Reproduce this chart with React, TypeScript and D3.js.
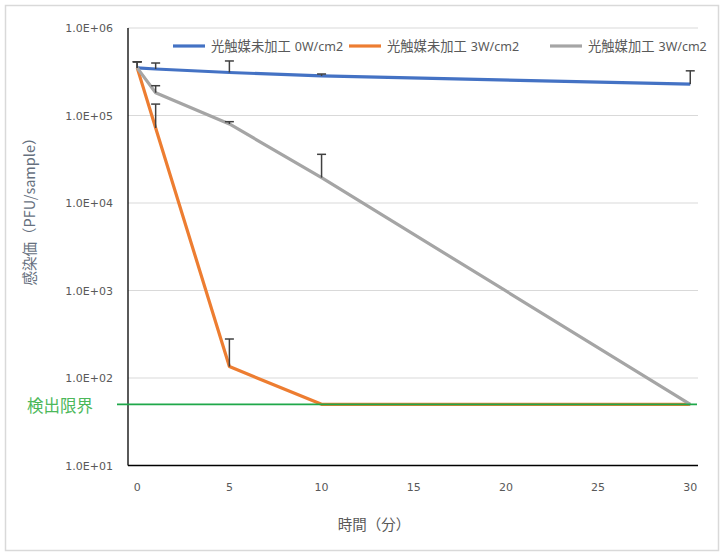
import React from "react";
import * as d3 from "d3";

const times = [0, 1, 5, 10, 30];
const seriesNames = ["光触媒未加工 0W/cm2", "光触媒未加工 3W/cm2", "光触媒加工 3W/cm2"];
const seriesColors = ["#4472C4", "#ED7D31", "#A5A5A5"];
const blueValues = [350000, 340000, 310000, 283000, 228000];
const blueUpper = [411000, 398000, 420000, 298000, 324000];
const orangeValues = [350000, 72000, 135, 50, 50];
const orangeUpper = [411000, 135000, 279, null, null];
const grayValues = [350000, 182000, 80000, 19500, 50];
const grayUpper = [411000, 219000, 85000, 36000, null];
const yTicks = [1e1, 1e2, 1e3, 1e4, 1e5, 1e6];
const xTicks = [0, 5, 10, 15, 20, 25, 30];
const detectionLimit = 50;
const detectionLabel = "検出限界";
const yTitle = "感染価（PFU/sample）";
const xTitle = "時間（分）";

const W = 727;
const H = 559;
const left = 128;
const right = 698;
const top = 28;
const bottom = 465.5;
const CJK = "'Noto Sans CJK JP', 'Noto Sans', sans-serif";
const LAT = "'DejaVu Sans', 'Noto Sans CJK JP', sans-serif";
const LAT2 = "'Noto Sans', 'Noto Sans CJK JP', sans-serif";

export default function App() {
  const x = d3.scaleLinear().domain([-0.5, 30.42]).range([left, right]);
  const y = d3.scaleLog().domain([10, 1e6]).range([bottom, top]);
  const line = d3
    .line<[number, number]>()
    .x((d) => x(d[0]))
    .y((d) => y(d[1]));

  const values = [blueValues, orangeValues, grayValues];
  const uppers = [blueUpper, orangeUpper, grayUpper];

  const fmt = (v: number) => "1.0E+" + String(Math.round(Math.log10(v))).padStart(2, "0");

  const legendX = [173, 349, 550];

  return (
    <svg width={W} height={H} style={{ position: "absolute", left: 0, top: 0 }}>
      <rect x={5.5} y={5.5} width={713} height={545} fill="#fff" stroke="#d9d9d9" strokeWidth={1.5} />
      {yTicks.map((t) => (
        <line key={"g" + t} x1={left} x2={right} y1={y(t)} y2={y(t)} stroke="#d9d9d9" strokeWidth={1.2} />
      ))}
      <line x1={left} x2={left} y1={top} y2={bottom} stroke="#000" strokeWidth={1.3} />
      <line x1={left} x2={right} y1={bottom} y2={bottom} stroke="#000" strokeWidth={1.3} />
      {yTicks.map((t) => (
        <text key={"yt" + t} x={113} y={y(t) + 4} textAnchor="end" fontSize={11} fill="#595959" fontFamily={LAT}>
          {fmt(t)}
        </text>
      ))}
      {xTicks.map((t) => (
        <text key={"xt" + t} x={x(t)} y={491} textAnchor="middle" fontSize={11} fill="#595959" fontFamily={LAT}>
          {t}
        </text>
      ))}
      <text x={374} y={530} textAnchor="middle" fontSize={14.5} fill="#595959" fontFamily={CJK}>
        {xTitle}
      </text>
      <text
        transform={`translate(35, 208) rotate(-90)`}
        textAnchor="middle"
        fontSize={14.5}
        fill="#66707e"
        fontFamily={CJK}
      >
        {yTitle}
      </text>
      {values.map((vals, i) => (
        <path
          key={"s" + i}
          d={line(times.map((t, j) => [t, vals[j]] as [number, number])) || ""}
          fill="none"
          stroke={seriesColors[i]}
          strokeWidth={3.2}
          strokeLinejoin="round"
        />
      ))}
      <line x1={117} x2={697} y1={y(detectionLimit)} y2={y(detectionLimit)} stroke="#1fa84a" strokeWidth={1.6} />
      <text x={27} y={412} fontSize={16.5} fill="#4cb85a" fontFamily={CJK}>
        {detectionLabel}
      </text>
      {uppers.map((ups, i) =>
        ups.map((u, j) => {
          if (u == null) return null;
          const cx = x(times[j]);
          return (
            <g key={"e" + i + "-" + j} stroke="#404040" strokeWidth={1.5}>
              <line x1={cx} x2={cx} y1={y(values[i][j])} y2={y(u)} />
              <line x1={cx - 4.5} x2={cx + 4.5} y1={y(u)} y2={y(u)} />
            </g>
          );
        })
      )}
      {seriesNames.map((n, i) => {
        const [jp, lat] = n.split(" ");
        return (
          <g key={"l" + i}>
            <line x1={legendX[i]} x2={legendX[i] + 32} y1={46} y2={46} stroke={seriesColors[i]} strokeWidth={3.2} />
            <text x={legendX[i] + 38} y={51} fill="#595959">
              <tspan fontSize={13.3} fontFamily={CJK}>{jp}</tspan>
              <tspan dx={4} fontSize={12.5} fontFamily={LAT2}>{lat}</tspan>
            </text>
          </g>
        );
      })}
    </svg>
  );
}
